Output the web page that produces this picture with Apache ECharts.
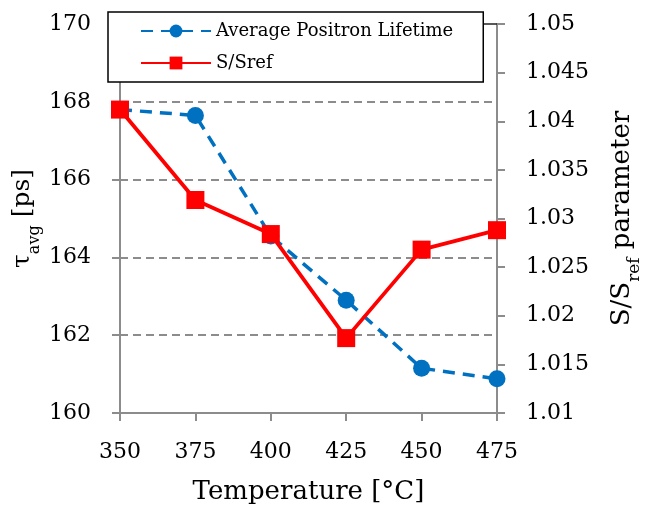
<!DOCTYPE html>
<html>
<head>
<meta charset="utf-8">
<script src="https://cdn.jsdelivr.net/npm/echarts@6/dist/echarts.min.js"></script>
<style>
  html, body { margin: 0; padding: 0; background: #fff; }
  #chart { width: 651px; height: 510px; }
</style>
</head>
<body>
<div id="chart"></div>
<script>
// Annealing temperature (°C)
const temperatures = [350, 375, 400, 425, 450, 475];
// Average positron lifetime, tau_avg (ps) — left axis
const lifetime = [167.8, 167.65, 164.55, 162.9, 161.15, 160.88];
// Normalised S parameter, S/Sref — right axis
const sRatio = [1.0412, 1.0319, 1.0284, 1.0177, 1.0268, 1.0288];

const FONT = 'DejaVu Serif';
const BLUE = '#0070C0';
const RED = '#FF0000';
const AXIS_GRAY = '#8C8C8C';

const pairs = (xs, ys) => xs.map((x, i) => [x, ys[i]]);

const chart = echarts.init(document.getElementById('chart'), null, { renderer: 'canvas' });

chart.setOption({
  animation: false,
  backgroundColor: '#fff',
  textStyle: { fontFamily: FONT, color: '#000' },
  grid: { left: 120, right: 149, top: 24, bottom: 96, containLabel: false },
  legend: {
    left: 108,
    top: 12,
    orient: 'vertical',
    backgroundColor: '#fff',
    borderColor: '#000',
    borderWidth: 1.5,
    borderRadius: 0,
    padding: [10, 30, 10, 32],
    itemGap: 14,
    itemWidth: 70,
    itemHeight: 16,
    textStyle: { fontFamily: FONT, fontSize: 18, color: '#000' },
    data: ['Average Positron Lifetime', 'S/Sref']
  },
  xAxis: [
    {
      type: 'value',
      min: 350,
      max: 475,
      interval: 25,
      name: 'Temperature [°C]',
      nameLocation: 'middle',
      nameGap: 66,
      nameTextStyle: { fontFamily: FONT, fontSize: 26, color: '#000' },
      axisLine: { lineStyle: { color: AXIS_GRAY, width: 2 } },
      axisTick: { show: true, length: 8, lineStyle: { color: AXIS_GRAY, width: 2 } },
      axisLabel: { margin: 28, fontFamily: FONT, fontSize: 22, color: '#000' },
      splitLine: { show: false }
    },
    {
      // plot-area top edge
      type: 'value',
      position: 'top',
      min: 350,
      max: 475,
      axisLine: { show: true, lineStyle: { color: '#222', width: 1.5 } },
      axisTick: { show: false },
      axisLabel: { show: false },
      splitLine: { show: false }
    }
  ],
  yAxis: [
    {
      type: 'value',
      position: 'left',
      min: 160,
      max: 170,
      interval: 2,
      name: '{m|τ}{s|avg}{m| [ps]}',
      nameLocation: 'middle',
      nameRotate: 90,
      nameGap: 85,
      nameMoveOverlap: false,
      nameTextStyle: {
        fontFamily: FONT,
        color: '#000',
        rich: {
          m: { fontFamily: FONT, fontSize: 25, color: '#000', lineHeight: 30, verticalAlign: 'bottom' },
          s: { fontFamily: FONT, fontSize: 16, color: '#000', lineHeight: 30, verticalAlign: 'bottom', padding: [0, 0, -8, 0] }
        }
      },
      axisLine: { show: true, lineStyle: { color: AXIS_GRAY, width: 2 } },
      axisTick: { show: true, length: 8, lineStyle: { color: AXIS_GRAY, width: 2 } },
      axisLabel: { margin: 29, fontFamily: FONT, fontSize: 22, color: '#000' },
      splitLine: {
        show: true,
        showMinLine: false,
        showMaxLine: false,
        lineStyle: { color: '#8C8C8C', width: 2, type: [8, 5] }
      }
    },
    {
      type: 'value',
      position: 'right',
      min: 1.01,
      max: 1.05,
      interval: 0.005,
      name: '{m|S/S}{s|ref}{m| parameter}',
      nameLocation: 'middle',
      nameRotate: 90,
      nameGap: 108,
      nameTextStyle: {
        fontFamily: FONT,
        color: '#000',
        rich: {
          m: { fontFamily: FONT, fontSize: 26, color: '#000', lineHeight: 30, verticalAlign: 'bottom' },
          s: { fontFamily: FONT, fontSize: 17, color: '#000', lineHeight: 30, verticalAlign: 'bottom', padding: [0, 0, -8, 0] }
        }
      },
      axisLine: { show: true, lineStyle: { color: AXIS_GRAY, width: 2 } },
      axisTick: { show: true, length: 8, lineStyle: { color: AXIS_GRAY, width: 2 } },
      axisLabel: { margin: 29, fontFamily: FONT, fontSize: 22, color: '#000' },
      splitLine: { show: false }
    }
  ],
  series: [
    {
      name: 'Average Positron Lifetime',
      type: 'line',
      yAxisIndex: 0,
      data: pairs(temperatures, lifetime),
      symbol: 'circle',
      symbolSize: 17,
      itemStyle: { color: BLUE },
      lineStyle: { color: BLUE, width: 3.5, type: [12, 8] },
      z: 2
    },
    {
      name: 'S/Sref',
      type: 'line',
      yAxisIndex: 1,
      data: pairs(temperatures, sRatio),
      symbol: 'rect',
      symbolSize: 18,
      itemStyle: { color: RED },
      lineStyle: { color: RED, width: 3.8 },
      z: 3
    }
  ]
});
</script>
</body>
</html>
